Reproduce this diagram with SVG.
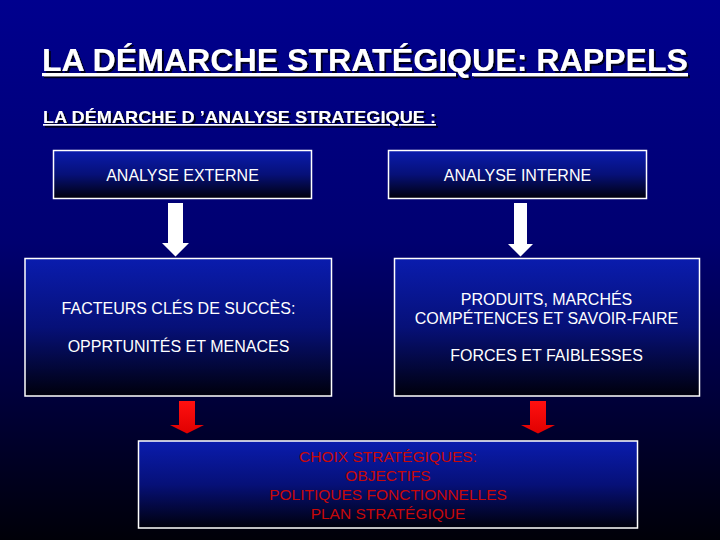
<svg xmlns="http://www.w3.org/2000/svg" width="720" height="540" viewBox="0 0 720 540">
<defs>
<linearGradient id="bg" x1="0" y1="0" x2="0" y2="1">
<stop offset="0" stop-color="#00008e"/>
<stop offset="0.45" stop-color="#000070"/>
<stop offset="1" stop-color="#000008"/>
</linearGradient>
<linearGradient id="box" x1="0" y1="0" x2="0" y2="1">
<stop offset="0" stop-color="#0a1cae"/>
<stop offset="0.5" stop-color="#061078"/>
<stop offset="1" stop-color="#00000c"/>
</linearGradient>
<linearGradient id="redg" x1="0" y1="0" x2="0" y2="1">
<stop offset="0" stop-color="#ff1010"/>
<stop offset="1" stop-color="#e00000"/>
</linearGradient>
<filter id="sh" x="-5%" y="-20%" width="110%" height="150%">
<feDropShadow dx="2" dy="2" stdDeviation="0.6" flood-color="#000010" flood-opacity="0.9"/>
</filter>
<style>
.box{fill:url(#box);stroke:#ffffff;stroke-width:1.5}
.t{font-family:"Liberation Sans",Arial,sans-serif;font-size:16px;fill:#ffffff;text-anchor:middle}
.r{font-family:"Liberation Sans",Arial,sans-serif;font-size:15.5px;fill:#c80808;text-anchor:middle}
.h{font-family:"Liberation Sans Narrow","Liberation Sans",Arial,sans-serif;font-weight:bold;fill:#ffffff;text-decoration:underline;filter:url(#sh)}
.wa{fill:#ffffff}
.ra{fill:url(#redg)}
</style>
</defs>
<rect x="0" y="0" width="720" height="540" fill="url(#bg)"/>
<g id="title">
<text class="h" x="42" y="71" font-size="32" textLength="646" lengthAdjust="spacingAndGlyphs">LA DÉMARCHE STRATÉGIQUE: RAPPELS</text>
</g>
<g id="subtitle">
<text class="h" x="43" y="123" font-size="17" textLength="393" lengthAdjust="spacingAndGlyphs">LA DÉMARCHE D ’ANALYSE STRATEGIQUE :</text>
</g>
<g id="connectors">
<polygon class="wa" points="168,203 183,203 183,243 189,243 175.5,256.5 162,243 168,243"/>
<polygon class="wa" points="514,203 527,203 527,244 533,244 520.5,256.5 508,244 514,244"/>
<polygon class="ra" points="179,401 195,401 195,425 204,425 187,433.5 170,425 179,425"/>
<polygon class="ra" points="530,401 546,401 546,425 555,425 538,433.5 521,425 530,425"/>
</g>
<g id="analyse-externe">
<rect class="box" x="53.5" y="150.5" width="258" height="48"/>
<text class="t" x="182.5" y="181">ANALYSE EXTERNE</text>
</g>
<g id="analyse-interne">
<rect class="box" x="388.5" y="150.5" width="258" height="48"/>
<text class="t" x="517.5" y="181">ANALYSE INTERNE</text>
</g>
<g id="facteurs">
<rect class="box" x="25" y="258.5" width="306.5" height="137.5"/>
<text class="t" x="178.5" y="314">FACTEURS CLÉS DE SUCCÈS:</text>
<text class="t" x="178.5" y="352">OPPRTUNITÉS ET MENACES</text>
</g>
<g id="produits">
<rect class="box" x="394.5" y="258.5" width="305" height="137.5"/>
<text class="t" x="546.5" y="305">PRODUITS, MARCHÉS</text>
<text class="t" x="546.5" y="324">COMPÉTENCES ET SAVOIR-FAIRE</text>
<text class="t" x="546.5" y="361">FORCES ET FAIBLESSES</text>
</g>
<g id="choix">
<rect class="box" x="138.5" y="441" width="499" height="87"/>
<text class="r" x="388" y="462">CHOIX STRATÉGIQUES:</text>
<text class="r" x="388" y="481">OBJECTIFS</text>
<text class="r" x="388" y="500">POLITIQUES FONCTIONNELLES</text>
<text class="r" x="388" y="519">PLAN STRATÉGIQUE</text>
</g>
</svg>
